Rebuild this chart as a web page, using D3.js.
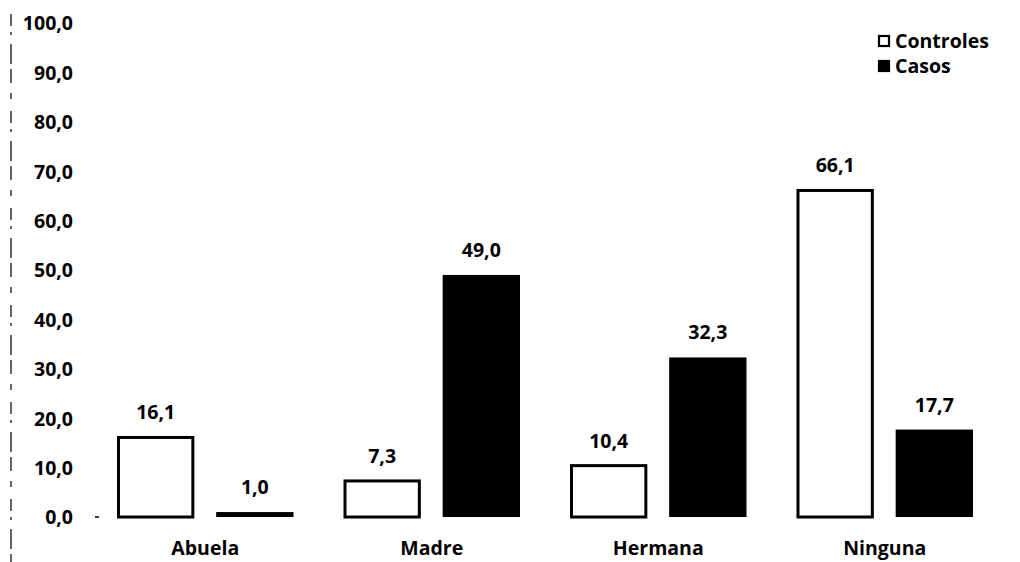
<!DOCTYPE html>
<html>
<head>
<meta charset="utf-8">
<script src="https://cdn.jsdelivr.net/npm/d3@7"></script>
<style>
  html, body { margin: 0; padding: 0; background: #fff; }
  svg { display: block; }
  text { font-family: "Open Sans", "Liberation Sans", sans-serif; font-weight: 700; fill: #000; }
</style>
</head>
<body>
<svg id="chart" width="1020" height="562"></svg>
<script>
// Relative affected (%) by kinship, controls vs. cases
const categories = ["Abuela", "Madre", "Hermana", "Ninguna"];
const seriesNames = ["Controles", "Casos"];
const controles = [16.1, 7.3, 10.4, 66.1];
const casos = [1.0, 49.0, 32.3, 17.7];
const yTicks = [0, 10, 20, 30, 40, 50, 60, 70, 80, 90, 100];

const fmt = v => v.toFixed(1).replace(".", ",");
const FS = "19.5px";

const svg = d3.select("#chart");

const y = d3.scaleLinear().domain([0, 100]).range([517, 23]);
const x0 = d3.scaleBand().domain(categories).range([92, 998]).padding(0);
const x1 = d3.scaleBand().domain(seriesNames)
  .range([25, x0.bandwidth() - 25]).paddingInner(0.22);

const fills = { Controles: "#fff", Casos: "#000" };

// Value axis: labels only
const yAxis = svg.append("g")
  .attr("transform", "translate(73,0)")
  .call(d3.axisLeft(y).tickValues(yTicks).tickFormat(fmt).tickSize(0).tickPadding(0));
yAxis.select(".domain").remove();
yAxis.selectAll("text")
  .style("font-size", FS)
  .style("font-family", "'Open Sans', sans-serif")
  .style("font-weight", 700)
  .attr("dy", "0.35em");

// Broken left border line
svg.append("line")
  .attr("x1", 11).attr("x2", 11).attr("y1", 14).attr("y2", 562)
  .attr("stroke", "#000").attr("stroke-width", 1.2)
  .attr("stroke-dasharray", "12 6 3 9 20 5 14 10 6 12");

// Category axis: labels only
const xAxis = svg.append("g")
  .attr("transform", "translate(0,517)")
  .call(d3.axisBottom(x0).tickSize(0).tickPadding(24));
xAxis.select(".domain").remove();
xAxis.selectAll("text")
  .style("font-size", FS)
  .style("font-family", "'Open Sans', sans-serif")
  .style("font-weight", 700);

// Small baseline mark
svg.append("line").attr("x1", 95).attr("x2", 99).attr("y1", 517).attr("y2", 517)
  .attr("stroke", "#000").attr("stroke-width", 1.5);

// Grouped bars
const rows = categories.map((c, i) => ({
  cat: c,
  vals: [{ s: "Controles", v: controles[i] }, { s: "Casos", v: casos[i] }]
}));

const groups = svg.append("g").selectAll("g")
  .data(rows).join("g")
  .attr("transform", d => `translate(${x0(d.cat)},0)`);

groups.selectAll("rect")
  .data(d => d.vals).join("rect")
  .attr("x", d => d.s === "Controles" ? x1(d.s) + 1.5 : x1(d.s))
  .attr("width", d => d.s === "Controles" ? x1.bandwidth() - 3 : x1.bandwidth())
  .attr("y", d => y(d.v))
  .attr("height", d => y(0) - y(d.v))
  .attr("fill", d => fills[d.s])
  .attr("stroke", d => d.s === "Controles" ? "#000" : "none")
  .attr("stroke-width", 3);

groups.selectAll("text.val")
  .data(d => d.vals).join("text")
  .attr("class", "val")
  .attr("x", d => x1(d.s) + x1.bandwidth() / 2)
  .attr("y", d => y(d.v) - 18)
  .attr("text-anchor", "middle")
  .style("font-size", FS)
  .text(d => fmt(d.v));

// Legend
const legend = svg.append("g");
seriesNames.forEach((s, i) => {
  const yy = 41 + i * 25;
  legend.append("rect")
    .attr("x", 879).attr("y", yy - 5).attr("width", 10).attr("height", 10)
    .attr("fill", fills[s]).attr("stroke", "#000").attr("stroke-width", 2.2);
  legend.append("text")
    .attr("x", 895).attr("y", yy).attr("dy", "0.35em")
    .style("font-size", FS)
    .text(s);
});
</script>
</body>
</html>
